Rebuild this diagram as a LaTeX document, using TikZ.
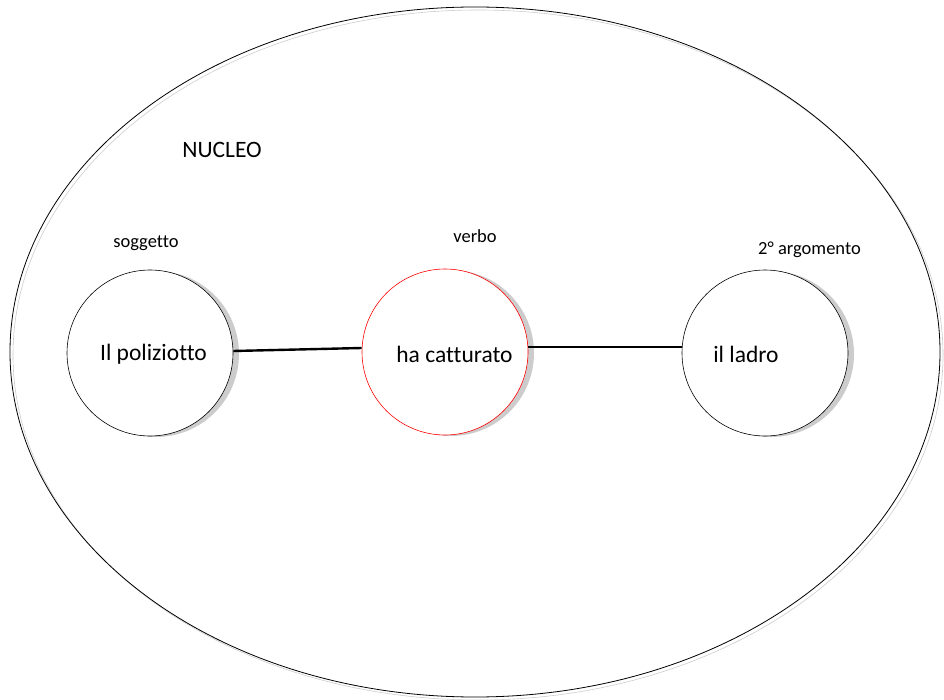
\documentclass[tikz,border=0pt]{standalone}
\usepackage{fontspec}
\setmainfont[Ligatures=NoCommon]{Carlito}
\begin{document}
\begin{tikzpicture}[x=1pt,y=-1pt,
  bubble/.style={circle,draw=black,line width=0.6pt,minimum size=166pt,inner sep=0pt,fill=white},
  shadowc/.style={circle,fill=gray!40,draw=none,minimum size=166pt,inner sep=0pt},
  lbl/.style={font=\fontsize{18.5}{20}\selectfont,inner sep=0pt},
  txt/.style={font=\fontsize{23.5}{26}\selectfont,inner sep=0pt},
  link/.style={line width=2.4pt,black}]
\useasboundingbox (0,0) rectangle (944,700);
% outer ellipse with shadow
\draw[gray!40,line width=0.6pt] (478,355) ellipse [x radius=465, y radius=345];
\draw[black,line width=0.8pt] (475,352) ellipse [x radius=465, y radius=345];
\node[font=\fontsize{23.5}{26}\selectfont,inner sep=0pt] (nucleo) at (222,150) {NUCLEO};
% shadows
\node[shadowc] (s1) at (156,354) {};
\node[shadowc] (s2) at (451,353) {};
\node[shadowc] (s3) at (771,354) {};
% circles
\node[bubble] (a) at (150,353) {};
\node[bubble,draw=red] (b) at (445,352) {};
\node[bubble] (c) at (765,353) {};
\node[txt] (ta) at (153.5,354) {Il poliziotto};
\node[txt] (tb) at (454.5,354) {ha catturato};
\node[txt] (tc) at (746,354) {il ladro};
\node[lbl] (la) at (146,243) {soggetto};
\node[lbl] (lb) at (475,236) {verbo};
\node[lbl] (lc) at (809.5,250) {2° argomento};
\draw[link] (a.east) ++(0,-2) coordinate (a1) -- (b.west |- 0,348) coordinate (b1);
\draw[link] (b.east |- 0,347) -- (c.west |- 0,347);
\end{tikzpicture}
\end{document}
